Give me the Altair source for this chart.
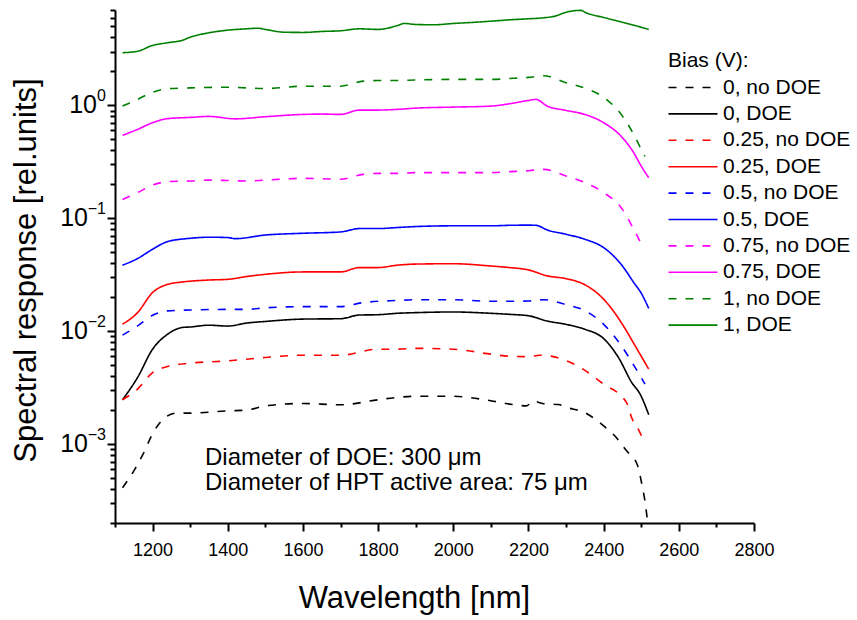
import altair as alt
import pandas as pd

FONT = "Liberation Sans"

series_names = ["0, no DOE", "0, DOE", "0.25, no DOE", "0.25, DOE", "0.5, no DOE",
                "0.5, DOE", "0.75, no DOE", "0.75, DOE", "1, no DOE", "1, DOE"]
series_colors = ["#000000", "#000000", "#ff0000", "#ff0000", "#0000ff",
                 "#0000ff", "#ff00ff", "#ff00ff", "#008000", "#008000"]
series_dash = [[8, 9], [1, 0], [8, 9], [1, 0], [8, 9],
               [1, 0], [8, 9], [1, 0], [8, 9], [1, 0]]

# ---- data (wavelength nm, spectral response rel. units) ----
wl_0_no = [1120, 1153, 1175, 1202, 1228, 1264, 1300, 1400, 1450, 1500, 1600, 1700, 1800, 1850,
           1900, 2000, 2100, 2150, 2195, 2212, 2240, 2280, 2300, 2350, 2400, 2430, 2460, 2490,
           2500, 2510, 2517]
sr_0_no = [0.00041, 0.0006, 0.00082, 0.00127, 0.00166, 0.00188, 0.00188, 0.00197, 0.0020, 0.00218,
           0.00229, 0.00223, 0.00247, 0.00259, 0.00265, 0.00265, 0.00242, 0.00226, 0.00218, 0.00240,
           0.00228, 0.00224, 0.00212, 0.00190, 0.00145, 0.00118, 0.00088, 0.00065, 0.00047,
           0.00031, 0.000205]

wl_0_doe = [1120, 1160, 1200, 1240, 1280, 1300, 1350, 1400, 1450, 1500, 1600, 1700, 1750, 1800,
            1850, 1900, 2000, 2100, 2150, 2200, 2250, 2300, 2350, 2400, 2440, 2475, 2497, 2520]
sr_0_doe = [0.00247, 0.00389, 0.00693, 0.0094, 0.0108, 0.0109, 0.0113, 0.0111, 0.0118, 0.0122,
            0.0128, 0.0129, 0.0139, 0.0140, 0.0144, 0.0146, 0.0148, 0.0144, 0.0141, 0.0137,
            0.0123, 0.0115, 0.0104, 0.0086, 0.0058, 0.0035, 0.00277, 0.00182]

wl_025_no = [1120, 1160, 1200, 1240, 1300, 1400, 1500, 1600, 1700, 1800, 1850, 1900, 2000, 2100,
             2150, 2200, 2230, 2300, 2350, 2400, 2450, 2462, 2475, 2490, 2505]
sr_025_no = [0.00247, 0.00307, 0.0043, 0.00487, 0.00521, 0.00546, 0.00585, 0.00613, 0.00613,
             0.00693, 0.00693, 0.00705, 0.00693, 0.00626, 0.0060, 0.00595, 0.00613, 0.00550,
             0.00450, 0.0034, 0.0026, 0.0023, 0.0017, 0.0014, 0.0011]

wl_025_doe = [1120, 1160, 1200, 1240, 1280, 1350, 1400, 1450, 1500, 1600, 1700, 1750, 1800, 1850,
              1900, 2000, 2100, 2150, 2200, 2250, 2300, 2350, 2400, 2450, 2480, 2500, 2520]
sr_025_doe = [0.01153, 0.0146, 0.022, 0.026, 0.0273, 0.0284, 0.0288, 0.0305, 0.0319, 0.0335,
              0.0335, 0.0366, 0.0366, 0.0384, 0.0393, 0.0396, 0.0378, 0.0366, 0.0349, 0.0309,
              0.0292, 0.0258, 0.0192, 0.0115, 0.0078, 0.0060, 0.00461]

wl_05_no = [1120, 1160, 1200, 1240, 1300, 1400, 1450, 1500, 1600, 1700, 1760, 1800, 1850, 1900,
            2000, 2100, 2150, 2200, 2240, 2300, 2350, 2400, 2450, 2480, 2510]
sr_05_no = [0.00922, 0.01114, 0.01386, 0.01513, 0.0154, 0.0156, 0.0156, 0.0161, 0.0165, 0.0165,
            0.0179, 0.0184, 0.0187, 0.019, 0.019, 0.0184, 0.0184, 0.0185, 0.019, 0.0172, 0.0152,
            0.0115, 0.0072, 0.0050, 0.0034]

wl_05_doe = [1120, 1160, 1200, 1240, 1300, 1350, 1400, 1420, 1500, 1600, 1700, 1750, 1800, 1850,
             1900, 2000, 2100, 2150, 2200, 2220, 2250, 2300, 2350, 2400, 2450, 2480, 2500, 2520]
sr_05_doe = [0.0384, 0.044, 0.0532, 0.0622, 0.0665, 0.068, 0.0675, 0.066, 0.0711, 0.0737, 0.0757,
             0.0811, 0.0811, 0.0828, 0.0845, 0.0858, 0.0858, 0.0867, 0.087, 0.0867, 0.0788,
             0.0722, 0.0652, 0.055, 0.0378, 0.027, 0.0217, 0.0159]

wl_075_no = [1120, 1160, 1200, 1240, 1300, 1350, 1400, 1450, 1500, 1600, 1700, 1760, 1800, 1850,
             1900, 2000, 2100, 2150, 2200, 2240, 2300, 2350, 2400, 2450, 2480, 2505]
sr_075_no = [0.147, 0.169, 0.197, 0.211, 0.214, 0.218, 0.216, 0.214, 0.218, 0.226, 0.222, 0.245,
             0.25, 0.25, 0.254, 0.254, 0.254, 0.259, 0.264, 0.271, 0.237, 0.207, 0.169, 0.12,
             0.08, 0.055]

wl_075_doe = [1120, 1160, 1200, 1240, 1300, 1350, 1420, 1500, 1600, 1650, 1700, 1750, 1800, 1850,
              1900, 2000, 2100, 2150, 2200, 2220, 2250, 2300, 2350, 2400, 2450, 2480, 2500, 2520]
sr_075_doe = [0.543, 0.613, 0.703, 0.763, 0.783, 0.799, 0.76, 0.794, 0.832, 0.838, 0.832, 0.909,
              0.909, 0.922, 0.946, 0.966, 0.986, 1.035, 1.107, 1.13, 0.986, 0.903, 0.832, 0.703,
              0.518, 0.381, 0.29, 0.229]

wl_1_no = [1120, 1160, 1200, 1240, 1300, 1400, 1500, 1600, 1700, 1760, 1800, 1850, 1900, 2000,
           2100, 2150, 2200, 2240, 2300, 2350, 2400, 2450, 2480, 2500, 2510]
sr_1_no = [0.986, 1.13, 1.31, 1.405, 1.43, 1.45, 1.41, 1.48, 1.48, 1.64, 1.66, 1.66, 1.68, 1.70,
           1.70, 1.73, 1.77, 1.83, 1.59, 1.42, 1.18, 0.804, 0.553, 0.408, 0.354]

wl_1_doe = [1120, 1160, 1200, 1240, 1280, 1300, 1350, 1400, 1450, 1480, 1500, 1550, 1600, 1650,
            1700, 1750, 1800, 1850, 1870, 1900, 1950, 2000, 2050, 2100, 2150, 2200, 2240, 2270,
            2300, 2340, 2350, 2400, 2450, 2520]
sr_1_doe = [2.93, 3.02, 3.40, 3.59, 3.78, 4.02, 4.40, 4.64, 4.77, 4.83, 4.71, 4.45, 4.43, 4.52,
            4.58, 4.77, 4.71, 5.08, 5.32, 5.21, 5.18, 5.32, 5.43, 5.57, 5.73, 5.85, 5.97, 6.17,
            6.69, 6.95, 6.69, 6.01, 5.46, 4.71]

series_data = [(wl_0_no, sr_0_no), (wl_0_doe, sr_0_doe), (wl_025_no, sr_025_no),
               (wl_025_doe, sr_025_doe), (wl_05_no, sr_05_no), (wl_05_doe, sr_05_doe),
               (wl_075_no, sr_075_no), (wl_075_doe, sr_075_doe), (wl_1_no, sr_1_no),
               (wl_1_doe, sr_1_doe)]

x_ticks = list(range(1100, 2801, 100))
y_ticks = [m * 10.0 ** e for e in range(-4, 1) for m in range(1, 10) if 2e-4 <= m * 10.0 ** e <= 7.01]
decade_vals = [0.001, 0.01, 0.1, 1.0]
decade_exps = ["\u22123", "\u22122", "\u22121", "0"]
note_text = ["Diameter of DOE: 300 \u03bcm\nDiameter of HPT active area: 75 \u03bcm"]

rows = []
for name, (wl, sr) in zip(series_names, series_data):
    for w, s in zip(wl, sr):
        rows.append({"series": name, "wl": w, "sr": s})
df = pd.DataFrame(rows)

xscale = alt.Scale(domain=[1100, 2800], nice=False, zero=False)
yscale = alt.Scale(type="log", domain=[2e-4, 7], nice=False)

yaxis = alt.Axis(values=y_ticks, labels=False, title="Spectral response [rel.units]",
                 tickSize={"condition": {"test": "abs(log(datum.value)/LN10 - round(log(datum.value)/LN10)) < 0.001", "value": 8}, "value": 5},
                 titleFontSize=31, titleFont=FONT, titleFontWeight="normal", titleColor="black",
                 titleX=-80, titleY=260, titleAngle=270, titleAlign="center",
                 titleBaseline="alphabetic",
                 domainColor="black", domainWidth=2, tickColor="black", tickWidth=2,
                 grid=False)

legend = alt.Legend(orient="none", legendX=553, legendY=40, symbolType="M-3,0H3",
                    symbolSize=267, symbolStrokeWidth=1.6, symbolOffset=14.5,
                    labelFontSize=21, labelFont=FONT,
                    titleFontSize=21, titleFont=FONT, titleFontWeight="normal", titleColor="black",
                    labelColor="black", rowPadding=4.4, labelOffset=19.5, titlePadding=6)

lines = alt.Chart(df).mark_line(strokeWidth=1.6, interpolate="monotone").encode(
    x=alt.X("wl:Q", scale=xscale,
            axis=alt.Axis(values=x_ticks, title="Wavelength [nm]",
                          labelExpr="datum.value % 200 == 0 ? format(datum.value, 'd') : ''",
                          tickSize={"condition": {"test": "datum.value % 200 == 0", "value": 8}, "value": 4},
                          labelPadding=10, labelFontSize=18, labelFont=FONT, labelColor="black",
                          titleFontSize=31, titleFont=FONT, titleFontWeight="normal", titleColor="black",
                          titleX=299, titleY=84, titleBaseline="alphabetic", titleAlign="center",
                          domainColor="black", domainWidth=2, tickColor="black", tickWidth=2,
                          grid=False, labelFlush=False, labelOverlap=False)),
    y=alt.Y("sr:Q", scale=yscale, axis=yaxis),
    color=alt.Color("series:N", scale=alt.Scale(domain=series_names, range=series_colors),
                    legend=legend, title="Bias (V):"),
    strokeDash=alt.StrokeDash("series:N", scale=alt.Scale(domain=series_names, range=series_dash),
                              legend=legend, title="Bias (V):"),
    order=alt.Order("wl:Q"),
)

ylab = pd.DataFrame({"v": decade_vals, "e": decade_exps})
ten_zero = alt.Chart(ylab).transform_filter("datum.v == 1").mark_text(
    text="10", fontSize=25, font=FONT, align="right", baseline="middle", color="black").encode(
    y=alt.Y("v:Q", scale=yscale, axis=yaxis), x=alt.value(-18))
ten_neg = alt.Chart(ylab).transform_filter("datum.v < 1").mark_text(
    text="10", fontSize=25, font=FONT, align="right", baseline="middle", color="black").encode(
    y=alt.Y("v:Q", scale=yscale, axis=yaxis), x=alt.value(-27))
exps = alt.Chart(ylab).mark_text(fontSize=16, font=FONT, align="right", baseline="middle",
                                 dy=-9, color="black").encode(
    y=alt.Y("v:Q", scale=yscale, axis=yaxis), x=alt.value(-9), text="e:N")

note = alt.Chart(pd.DataFrame({"t": note_text})).mark_text(
    font=FONT, fontSize=24, align="left", baseline="alphabetic", lineBreak="\n", lineHeight=25,
    color="black").encode(x=alt.value(90), y=alt.value(455), text="t:N")

chart = alt.layer(lines, ten_zero, ten_neg, exps, note).properties(
    width=639, height=513,
    autosize=alt.AutoSizeParams(type="none"),
    padding={"left": 115, "top": 10, "right": 103, "bottom": 97},
).configure_view(stroke=None)

chart.save("out.html", embed_options={"renderer": "svg", "actions": False})
